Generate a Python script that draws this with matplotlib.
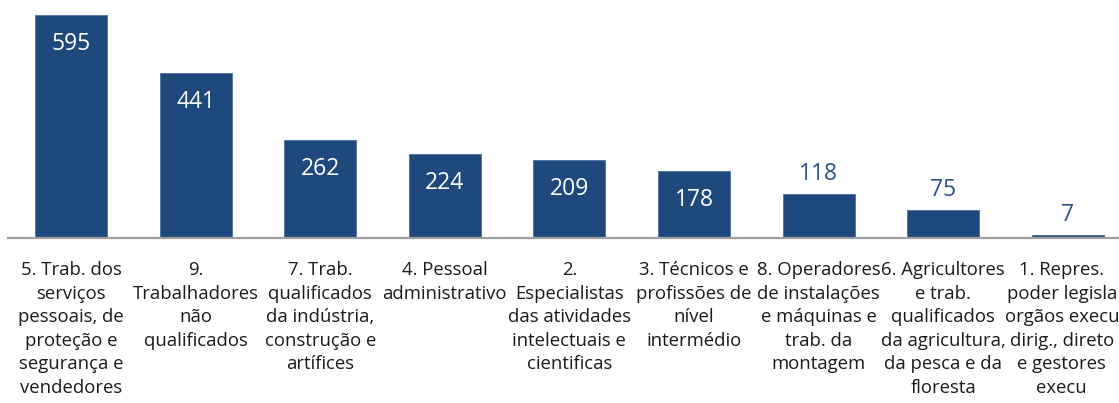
import matplotlib
matplotlib.use("Agg")
import matplotlib.pyplot as plt
import matplotlib.transforms as mtransforms

categories = [
    "5. Trab. dos\nserviços\npessoais, de\nproteção e\nsegurança e\nvendedores",
    "9.\nTrabalhadores\nnão\nqualificados",
    "7. Trab.\nqualificados\nda indústria,\nconstrução e\nartífices",
    "4. Pessoal\nadministrativo",
    "2.\nEspecialistas\ndas atividades\nintelectuais e\ncientificas",
    "3. Técnicos e\nprofissões de\nnível\nintermédio",
    "8. Operadores\nde instalações\ne máquinas e\ntrab. da\nmontagem",
    "6. Agricultores\ne trab.\nqualificados\nda agricultura,\nda pesca e da\nfloresta",
    "1. Repres.\npoder legisla\norgãos execu\ndirig., direto\ne gestores\nexecu",
]
values = [595, 441, 262, 224, 209, 178, 118, 75, 7]

W, H = 1119, 403
fig = plt.figure(figsize=(W / 100, H / 100), dpi=100)
ax = fig.add_axes([8 / W, 165 / H, 1111 / W, 238 / H])

bar_color = "#1F497D"
xs = list(range(len(values)))
ax.bar(xs, values, width=0.578, color=bar_color, edgecolor="#4A6F9C", linewidth=0.6, zorder=2)
ax.set_xlim((8 - 71) / 124.6, (1119 - 71) / 124.6)
ax.set_ylim(0, 635)

for s in ["top", "right", "left"]:
    ax.spines[s].set_visible(False)
ax.spines["bottom"].set_color("#A0A0A0")
ax.spines["bottom"].set_linewidth(1.6)
ax.spines["bottom"].set_zorder(3)
ax.set_xticks([])
ax.set_yticks([])

font = "Open Sans"
for x, v in zip(xs, values):
    if v > 150:
        ax.annotate(str(v), (x, v), xytext=(0, -29 * 0.72), textcoords="offset points",
                    ha="center", va="center", color="white", fontsize=16.5, family=font)
    else:
        ax.annotate(str(v), (x, v), xytext=(0, 20 * 0.72), textcoords="offset points",
                    ha="center", va="center", color="#2B5389", fontsize=16.5, family=font)

n = len(categories)
for i, (x, lab) in enumerate(zip(xs, categories)):
    dx = -6 if i == n - 1 else 0
    shift = mtransforms.ScaledTranslation(dx / 100, -23 / 100, fig.dpi_scale_trans)
    ax.text(x, 0, lab, transform=ax.get_xaxis_transform() + shift, ha="center", va="top",
            fontsize=13.3, family=font, color="#1A1A1A", linespacing=1.4,
            clip_on=False)

fig.savefig("out.png", dpi=100)
